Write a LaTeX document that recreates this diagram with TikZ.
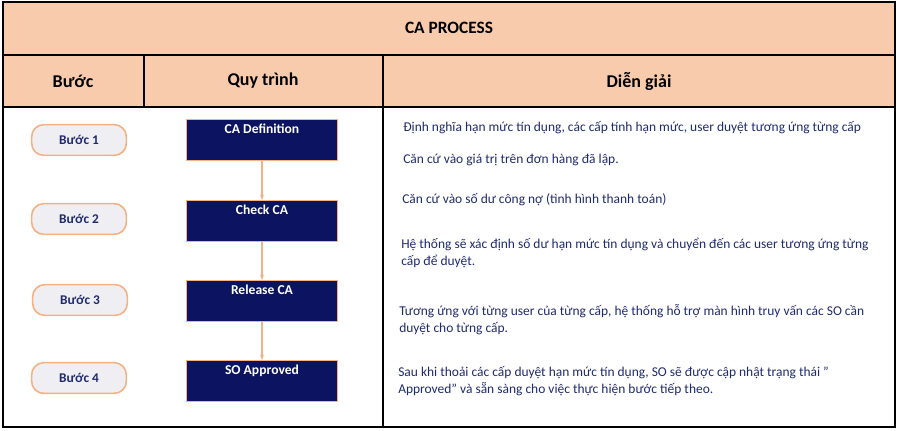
\documentclass[tikz,border=0pt]{standalone}
\usepackage{fontspec}
\setmainfont{Carlito}
\usetikzlibrary{arrows.meta}
\definecolor{hdr}{HTML}{F8CBAD}
\definecolor{orangeline}{HTML}{F4B183}
\definecolor{navy}{HTML}{0C1461}
\definecolor{pill}{HTML}{EFEFF3}
\definecolor{txt}{HTML}{1F2A6E}
\tikzset{
  stepbox/.style={draw=orangeline, line width=1.2pt, fill=pill, rounded corners=9pt,
    minimum width=71pt, minimum height=23pt, font=\bfseries\fontsize{10}{11}\selectfont, text=txt},
  procbox/.style={draw=orangeline, line width=0.6pt, fill=navy, minimum width=113pt,
    text height=7pt, text depth=17pt, inner ysep=3.4pt, text=white,
    font=\bfseries\fontsize{10.2}{11}\selectfont, anchor=north},
  heading/.style={font=\bfseries\fontsize{13.5}{14}\selectfont},
  desc/.style={anchor=north west, align=left, text=txt, font=\fontsize{10.1}{12.75}\selectfont, inner sep=0pt},
  flow/.style={draw=orangeline, line width=0.8pt, -{Stealth[length=4pt]}}
}
\begin{document}
\begin{tikzpicture}[x=0.75pt,y=-0.75pt]
    \useasboundingbox (0,0) rectangle (900,430);
    % table
    \fill [hdr] (3,2) rectangle (895,107);
    \draw [line width=0.8pt] (3,2) rectangle (895,427);
    \draw [line width=0.8pt] (3,55) -- (895,55);
    \draw [line width=0.8pt] (3,107) -- (895,107);
    \draw [line width=0.8pt] (144,55) -- (144,107);
    \draw [line width=0.8pt] (383,55) -- (383,427);
    \node [font=\bfseries\fontsize{13}{14}\selectfont] (title) at (449,28) {CA PROCESS};
    \node [heading] (h1) at (73,81) {Bước};
    \node [heading] (h2) at (263,81) {Quy trình};
    \node [heading] (h3) at (639,81) {Diễn giải};
    % steps
    \node [stepbox] (s1) at (79,140) {Bước 1};
    \node [stepbox] (s2) at (79,219) {Bước 2};
    \node [stepbox] (s3) at (80,300) {Bước 3};
    \node [stepbox] (s4) at (79,378) {Bước 4};
    % process
    \node [procbox] (p1) at (262,119) {CA Definition};
    \node [procbox] (p2) at (262,200) {Check CA};
    \node [procbox] (p3) at (262,280) {Release CA};
    \node [procbox] (p4) at (262,360) {SO Approved};
    \draw [flow] (p1) -- (p2);
    \draw [flow] (p2) -- (p3);
    \draw [flow] (p3) -- (p4);
    % descriptions
    \node [desc] (d1) at (403,121) {Định nghĩa hạn mức tín dụng, các cấp tính hạn mức, user duyệt tương ứng từng cấp};
    \node [desc] (d2) at (403,154) {Căn cứ vào giá trị trên đơn hàng đã lập.};
    \node [desc] (d3) at (402,193) {Căn cứ vào số dư công nợ (tình hình thanh toán)};
    \node [desc] (d4) at (401,238) {Hệ thống sẽ xác định số dư hạn mức tín dụng và chuyển đến các user tương ứng từng\\cấp để duyệt.};
    \node [desc] (d5) at (399,304) {Tương ứng với từng user của từng cấp, hệ thống hỗ trợ màn hình truy vấn các SO cần\\duyệt cho từng cấp.};
    \node [desc] (d6) at (398,366) {Sau khi thoải các cấp duyệt hạn mức tín dụng, SO sẽ được cập nhật trạng thái "\\Approved" và sẵn sàng cho việc thực hiện bước tiếp theo.};
\end{tikzpicture}
\end{document}
